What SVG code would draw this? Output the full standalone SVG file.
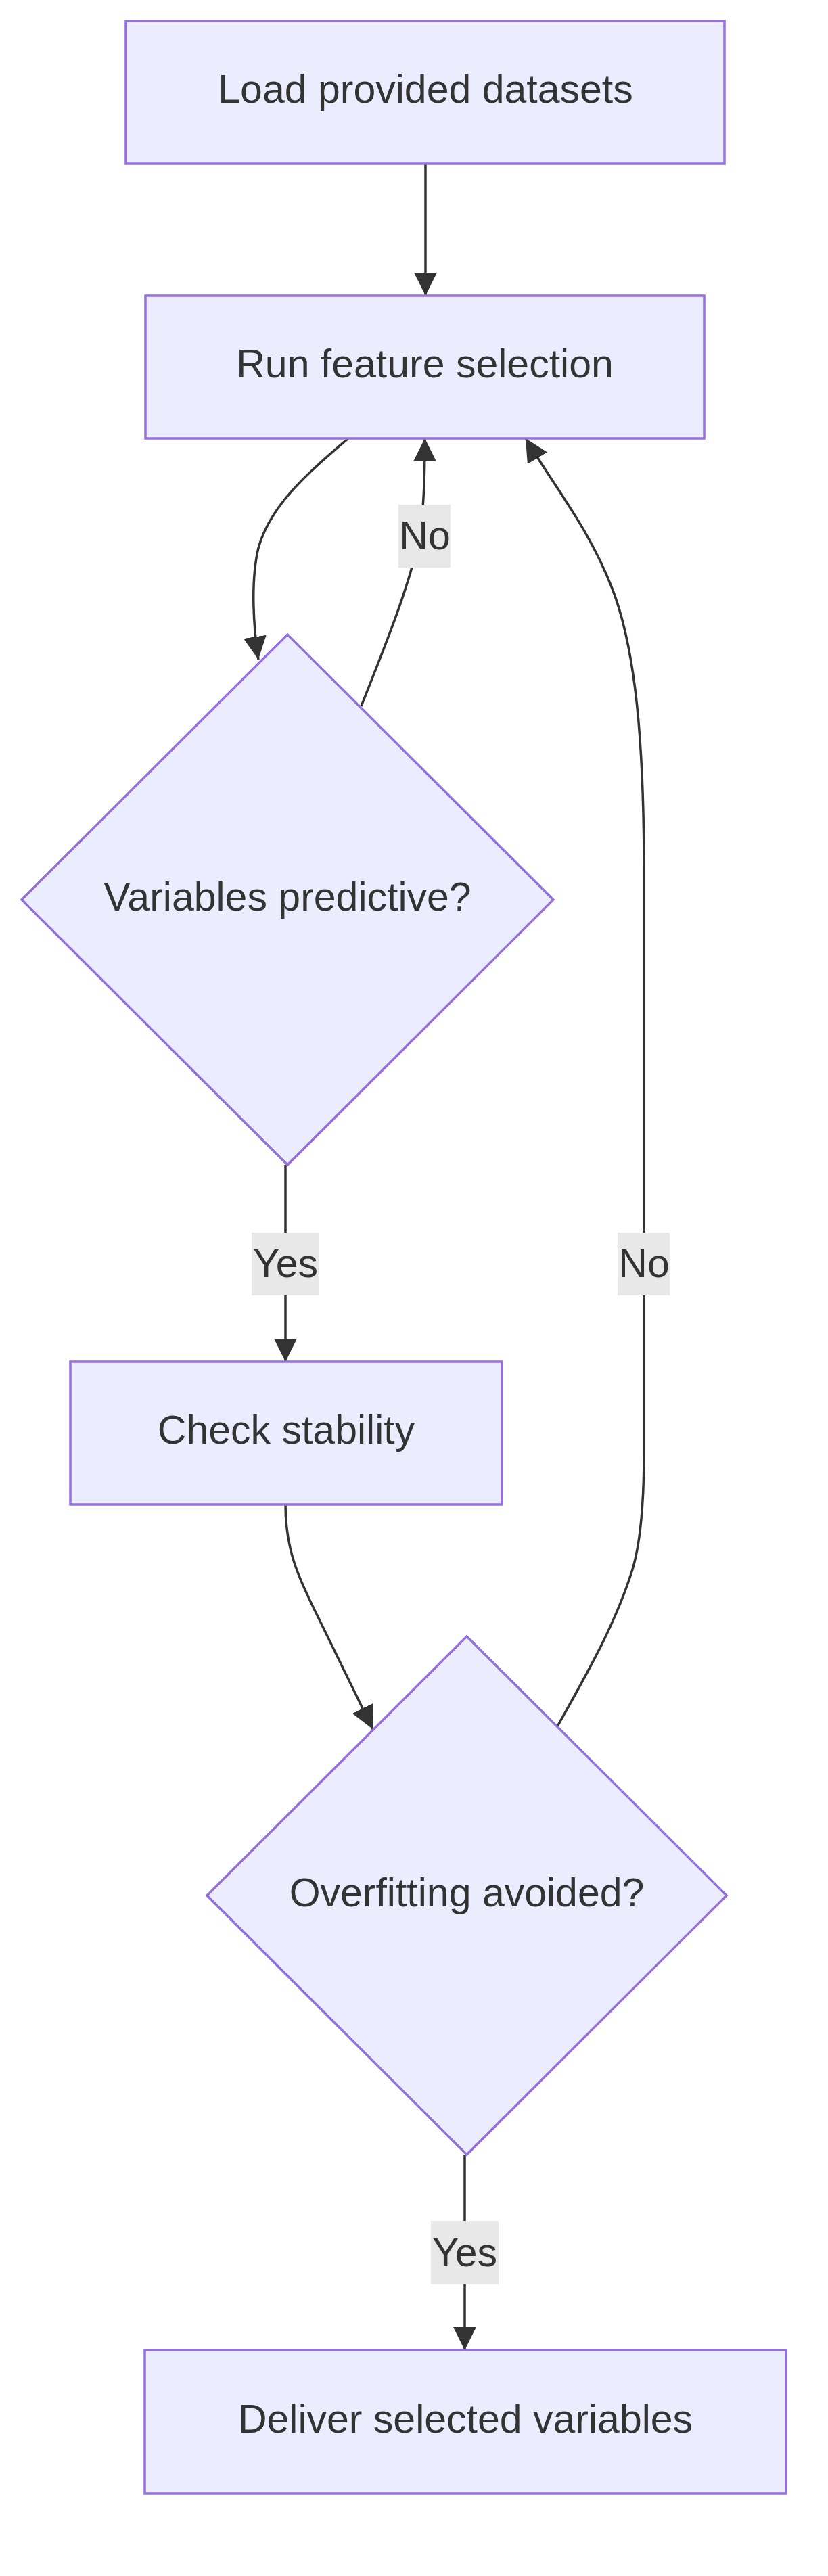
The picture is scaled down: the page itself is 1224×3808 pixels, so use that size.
<svg xmlns="http://www.w3.org/2000/svg" width="1224" height="3808" viewBox="0 0 1224 3808">
<style>
.n{fill:#ECECFF;stroke:#9370DB;stroke-width:3.5}
.t{font-family:"Liberation Sans",Arial,sans-serif;font-size:59px;fill:#333;text-anchor:middle;dominant-baseline:central}
.e{fill:none;stroke:#333;stroke-width:3.5}
.lb{fill:#e8e8e8}
</style>
<defs>
<marker id="ah" markerUnits="userSpaceOnUse" markerWidth="34" markerHeight="34" viewBox="0 0 10 10" refX="10" refY="5" orient="auto">
<path d="M0,0 L10,5 L0,10 z" fill="#333"/>
</marker>
</defs>
<rect width="1224" height="3808" fill="#fff"/>
<g id="connectors">
<path class="e" d="M629,242 L629,437" marker-end="url(#ah)"/>
<path class="e" d="M515,648 C460,695 400,745 382,810 C370,860 375,930 382,975" marker-end="url(#ah)"/>
<path class="e" d="M534,1044 C565,965 600,880 615,815 C626,770 628,720 628,648" marker-end="url(#ah)"/>
<path class="e" d="M422,1722 L422,2013" marker-end="url(#ah)"/>
<path class="e" d="M422,2224 C422,2290 440,2330 470,2390 L551,2556" marker-end="url(#ah)"/>
<path class="e" d="M824,2552 C870,2470 910,2400 935,2320 C950,2270 952,2200 952,2146 L952,1290 C952,1100 940,960 905,870 C870,780 820,720 777,648" marker-end="url(#ah)"/>
<path class="e" d="M687,3185 L687,3474" marker-end="url(#ah)"/>
</g>
<g id="labels">
<rect class="lb" x="589" y="746" width="77" height="93"/><text class="t" x="628" y="792">No</text>
<rect class="lb" x="372" y="1822" width="100" height="93"/><text class="t" x="422" y="1868">Yes</text>
<rect class="lb" x="913" y="1822" width="77" height="93"/><text class="t" x="952" y="1868">No</text>
<rect class="lb" x="637" y="3283" width="100" height="94"/><text class="t" x="687" y="3330">Yes</text>
</g>
<g id="n1"><rect class="n" x="186" y="31" width="885" height="211"/><text class="t" x="629" y="132">Load provided datasets</text></g>
<g id="n2"><rect class="n" x="215" y="437" width="826" height="211"/><text class="t" x="628" y="538">Run feature selection</text></g>
<g id="n3"><polygon class="n" points="425,938 818,1330 425,1722 32,1330"/><text class="t" x="425" y="1326">Variables predictive?</text></g>
<g id="n4"><rect class="n" x="104" y="2013" width="638" height="211"/><text class="t" x="423" y="2114">Check stability</text></g>
<g id="n5"><polygon class="n" points="690,2419 1074,2802 690,3185 306,2802"/><text class="t" x="690" y="2798">Overfitting avoided?</text></g>
<g id="n6"><rect class="n" x="214" y="3474" width="948" height="212"/><text class="t" x="688" y="3576">Deliver selected variables</text></g>
</svg>
